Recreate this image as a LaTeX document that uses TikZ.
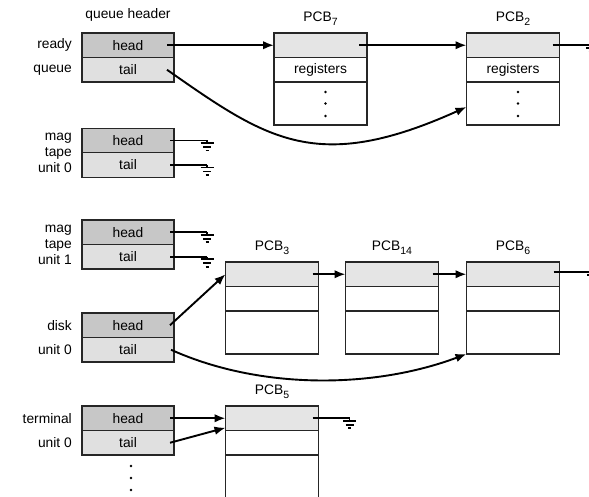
\documentclass[tikz,border=0pt]{standalone}
\usepackage{fontspec}
\setmainfont{Liberation Sans}
\usetikzlibrary{shapes,arrows.meta,positioning}

\definecolor{headgray}{gray}{0.78}
\definecolor{tailgray}{gray}{0.88}
\definecolor{linkgray}{gray}{0.9}

\newcommand{\pcbname}[1]{PCB\raisebox{-3.5pt}{\fontsize{10.5}{12}\selectfont #1}}

\tikzset{earth/.pic={
  \draw[line width=1.4] (0,0) -- (0,2.5);
  \draw[line width=1.8] (-6.5,2.5) -- (6.5,2.5) (-4,6.5) -- (4,6.5) (-1.5,10) -- (1.5,10);
}}

\begin{document}
\begin{tikzpicture}[x=1pt, y=-1pt, >={Latex[length=11pt,width=8.5pt]},
  every node/.style={font=\fontsize{13.8}{16}\selectfont},
  cell/.style={draw=black!85, line width=1.2, inner sep=0, outer sep=0, minimum width=92pt, minimum height=24.5pt},
  hcell/.style={cell, fill=headgray},
  tcell/.style={cell, fill=tailgray},
  pcbtop/.style={cell, minimum width=93pt, fill=linkgray},
  pcbrow/.style={cell, minimum width=93pt, fill=white},
  pcbrest/.style={cell, minimum width=93pt, minimum height=43pt, fill=white},
  qname/.style={inner sep=0, align=right},
  wire/.style={line width=1.9}]
  \useasboundingbox (0,0) rectangle (589,497);

  % queue headers
  \node (rqhead) [hcell] at (128,45.25) {head};
  \node (rqtail) [tcell, below=0pt of rqhead] {tail};
  \node (rqname1) [qname, left=10pt of rqhead] {ready};
  \node (rqname2) [qname, left=10pt of rqtail] {queue};
  \node (qhdr) [above=8pt of rqhead] {queue header};

  %%%%%%%%%%%%%%%%%%
  \node (mt0head) [hcell] at (128,140.5) {head};
  \node (mt0tail) [tcell, below=0pt of mt0head] {tail};
  \node (mt0name) [qname, left=10pt of mt0head.south west] {mag\\tape\\unit 0};

  \node (mt1head) [hcell] at (128,232.25) {head};
  \node (mt1tail) [tcell, below=0pt of mt1head] {tail};
  \node (mt1name) [qname, left=10pt of mt1head.south west] {mag\\tape\\unit 1};

  \node (dkhead) [hcell] at (128,325.25) {head};
  \node (dktail) [tcell, below=0pt of dkhead] {tail};
  \node (dkname1) [qname, left=10pt of dkhead] {disk};
  \node (dkname2) [qname, left=10pt of dktail] {unit 0};

  \node (tmhead) [hcell] at (128,418.25) {head};
  \node (tmtail) [tcell, below=0pt of tmhead] {tail};
  \node (tmname1) [qname, left=10pt of tmhead] {terminal};
  \node (tmname2) [qname, left=10pt of tmtail] {unit 0};

  %%%%%%%%%%%%%%%%%%
  % PCBs
  \node (pcb7top) [pcbtop] at (320.5,45.25) {};
  \node (pcb7reg) [pcbrow, below=0pt of pcb7top] {registers};
  \node (pcb7rest) [pcbrest, below=0pt of pcb7reg] {};
  \node (pcb7name) [above=4pt of pcb7top] {\pcbname{7}};

  \node (pcb2top) [pcbtop] at (513,45.25) {};
  \node (pcb2reg) [pcbrow, below=0pt of pcb2top] {registers};
  \node (pcb2rest) [pcbrest, below=0pt of pcb2reg] {};
  \node (pcb2name) [above=4pt of pcb2top] {\pcbname{2}};

  \node (pcb3top) [pcbtop] at (272,274.25) {};
  \node (pcb3reg) [pcbrow, below=0pt of pcb3top] {};
  \node (pcb3rest) [pcbrest, below=0pt of pcb3reg] {};
  \node (pcb3name) [above=4pt of pcb3top] {\pcbname{3}};

  \node (pcb14top) [pcbtop] at (392,274.25) {};
  \node (pcb14reg) [pcbrow, below=0pt of pcb14top] {};
  \node (pcb14rest) [pcbrest, below=0pt of pcb14reg] {};
  \node (pcb14name) [above=4pt of pcb14top] {\pcbname{14}};

  \node (pcb6top) [pcbtop] at (513,274.25) {};
  \node (pcb6reg) [pcbrow, below=0pt of pcb6top] {};
  \node (pcb6rest) [pcbrest, below=0pt of pcb6reg] {};
  \node (pcb6name) [above=4pt of pcb6top] {\pcbname{6}};

  \node (pcb5top) [pcbtop] at (272,418.25) {};
  \node (pcb5reg) [pcbrow, below=0pt of pcb5top] {};
  \node (pcb5rest) [pcbrest, minimum height=50pt, below=0pt of pcb5reg] {};
  \node (pcb5name) [above=4pt of pcb5top] {\pcbname{5}};

  % dots
  \foreach \d in {11.5,0,-12.5} {
    \fill ([xshift=5pt,yshift=\d pt]pcb7rest.center) circle (1.4);
    \fill ([xshift=5pt,yshift=\d pt]pcb2rest.center) circle (1.4);
  }
  \foreach \d in {11,23,35}
    \fill ([xshift=3pt,yshift=-\d pt]tmtail.south) circle (1.4);

  %%%%%%%%%%%%%%%%%%%%
  %%%%%%%%%%%%%%%%%%%%
  \draw [->, wire] ([xshift=-7pt]rqhead.east) -- (pcb7top.west);
  \draw [->, wire] ([xshift=-8pt]pcb7top.east) -- (pcb2top.west);
  \draw [wire] ([xshift=-7pt]pcb2top.east) -- ++(40,0) pic {earth};
  \draw [->, wire] ([xshift=-7pt]rqtail.east) .. controls +(100,70) and +(-150,67.5) .. ([yshift=-3.5pt]pcb2rest.west);

  \draw [wire] ([xshift=-4pt]mt0head.east) -- ++(37,0) pic {earth};
  \draw [wire] ([xshift=-4pt]mt0tail.east) -- ++(37,0) pic {earth};
  \draw [wire] ([xshift=-4pt]mt1head.east) -- ++(37,0) pic {earth};
  \draw [wire] ([xshift=-4pt]mt1tail.east) -- ++(37,0) pic {earth};

  \draw [->, wire] ([xshift=-4pt]dkhead.east) -- (pcb3top.west);
  \draw [->, wire] ([xshift=-6pt]pcb3top.east) -- (pcb14top.west);
  \draw [->, wire] ([xshift=-6pt]pcb14top.east) -- (pcb6top.west);
  \draw [wire] ([xshift=-6pt,yshift=2pt]pcb6top.east) -- ++(40,0) pic {earth};
  \draw [->, wire] ([xshift=-3pt]dktail.east) .. controls +(90,40.5) and +(-92,34.5) .. (pcb6rest.south west);

  \draw [->, wire] ([xshift=-4pt]tmhead.east) -- (pcb5top.west);
  \draw [->, wire] ([xshift=-4pt]tmtail.east) -- ([yshift=-9.5pt]pcb5top.west);
  \draw [wire] ([xshift=-6pt]pcb5top.east) -- ++(37,0) pic {earth};

\end{tikzpicture}
\end{document}
